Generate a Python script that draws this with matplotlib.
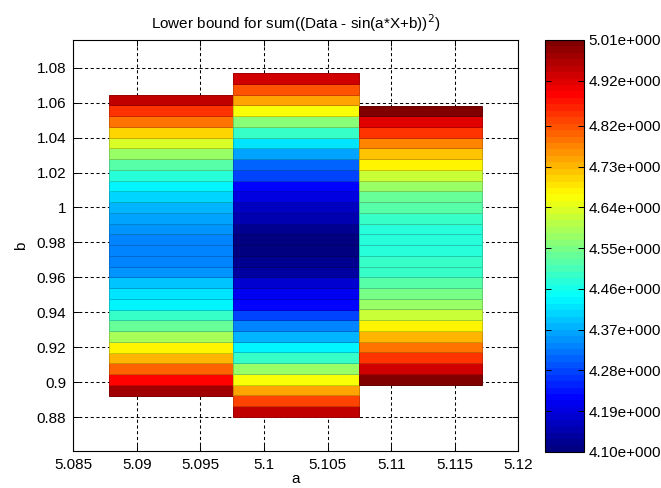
import numpy as np
import matplotlib
matplotlib.use("Agg")
import matplotlib.pyplot as plt
from matplotlib.colors import LinearSegmentedColormap, Normalize, to_rgb
from matplotlib.cm import ScalarMappable

plt.rcParams['font.family'] = ['Liberation Sans', 'DejaVu Sans']
plt.rcParams['font.size'] = 11

# column edges along a
a_edges = [5.0878, 5.0976, 5.10745, 5.11717]
# b range of each column
b_lo = [0.8924, 0.8802, 0.8987]
b_hi = [1.0646, 1.0768, 1.0583]

# lower bound of each band, listed from top to bottom
col1 = [4.942, 4.851, 4.783, 4.705, 4.637, 4.578, 4.526, 4.473, 4.437, 4.407,
        4.378, 4.357, 4.342, 4.335,
        4.335, 4.341, 4.355, 4.391, 4.419, 4.441, 4.491, 4.532, 4.591, 4.669,
        4.737, 4.810, 4.896, 4.974]
col2 = [4.928, 4.825, 4.746, 4.655, 4.566, 4.495, 4.419, 4.364, 4.312, 4.276,
        4.218, 4.191, 4.164, 4.143, 4.127, 4.114,
        4.100, 4.127, 4.141, 4.173, 4.200, 4.227, 4.282, 4.328, 4.373, 4.428,
        4.491, 4.573, 4.664, 4.746, 4.828, 4.946]
col3 = [5.010, 4.919, 4.842, 4.781, 4.722, 4.673, 4.619, 4.573, 4.540, 4.514,
        4.495, 4.482, 4.478,
        4.479, 4.484, 4.497, 4.517, 4.543, 4.577, 4.623, 4.677, 4.727, 4.786,
        4.847, 4.925, 5.010]
columns = [col1, col2, col3]

vmin, vmax = 4.10, 5.01
cbar_ticks = [4.10, 4.19, 4.28, 4.37, 4.46, 4.55, 4.64, 4.73, 4.82, 4.92, 5.01]
xticks = [5.085, 5.09, 5.095, 5.1, 5.105, 5.11, 5.115, 5.12]
xlabels = ['5.085', '5.09', '5.095', '5.1', '5.105', '5.11', '5.115', '5.12']
yticks = [0.88, 0.9, 0.92, 0.94, 0.96, 0.98, 1.0, 1.02, 1.04, 1.06, 1.08]
ylabels = ['0.88', '0.9', '0.92', '0.94', '0.96', '0.98', '1', '1.02', '1.04', '1.06', '1.08']

# matlab style jet(64)
jet = LinearSegmentedColormap.from_list(
    'mjet', [(0, (0, 0, 0.5)), (0.125, (0, 0, 1)), (0.375, (0, 1, 1)),
             (0.625, (1, 1, 0)), (0.875, (1, 0, 0)), (1, (0.5, 0, 0))], N=64)
norm = Normalize(vmin, vmax)

fig = plt.figure(figsize=(6.61, 4.88), dpi=100)
ax = fig.add_axes([0.1109, 0.0758, 0.6732, 0.8422])

for i, vals in enumerate(columns):
    vals = np.array(vals[::-1])
    edges = np.linspace(b_lo[i], b_hi[i], len(vals) + 1)
    faces = jet(norm(vals))
    dark = [tuple(np.array(to_rgb(c)) * 0.8) for c in faces]
    ax.bar(a_edges[i], np.diff(edges), width=a_edges[i + 1] - a_edges[i],
           bottom=edges[:-1], align='edge', color=faces, edgecolor=dark,
           linewidth=0.7, zorder=3)

ax.set_xlim(5.085, 5.12)
ax.set_ylim(0.8607, 1.0958)
ax.set_xticks(xticks)
ax.set_xticklabels(xlabels)
ax.set_yticks(yticks)
ax.set_yticklabels(ylabels)
ax.tick_params(direction='in', length=4, top=True, right=True, width=0.7, pad=5)
ax.grid(True, color='black', linestyle=(0, (3, 2.5)), linewidth=0.75)
ax.set_axisbelow(True)
for s in ax.spines.values():
    s.set_linewidth(0.8)

ax.set_title(r'Lower bound for sum((Data - sin(a*X+b))$^2$)', fontsize=11, pad=8)
ax.set_xlabel('a', labelpad=0)
ax.set_ylabel('b', labelpad=6)

cax = fig.add_axes([0.825, 0.0738, 0.059, 0.8443])
sm = ScalarMappable(norm=norm, cmap=jet)
cb = fig.colorbar(sm, cax=cax, ticks=cbar_ticks)
cb.ax.set_yticklabels(['%.2fe+000' % t for t in cbar_ticks])
cb.ax.tick_params(direction='in', length=4, left=True, right=True, width=0.7, pad=3)
cb.outline.set_linewidth(0.8)

fig.savefig('out.png', dpi=100)
